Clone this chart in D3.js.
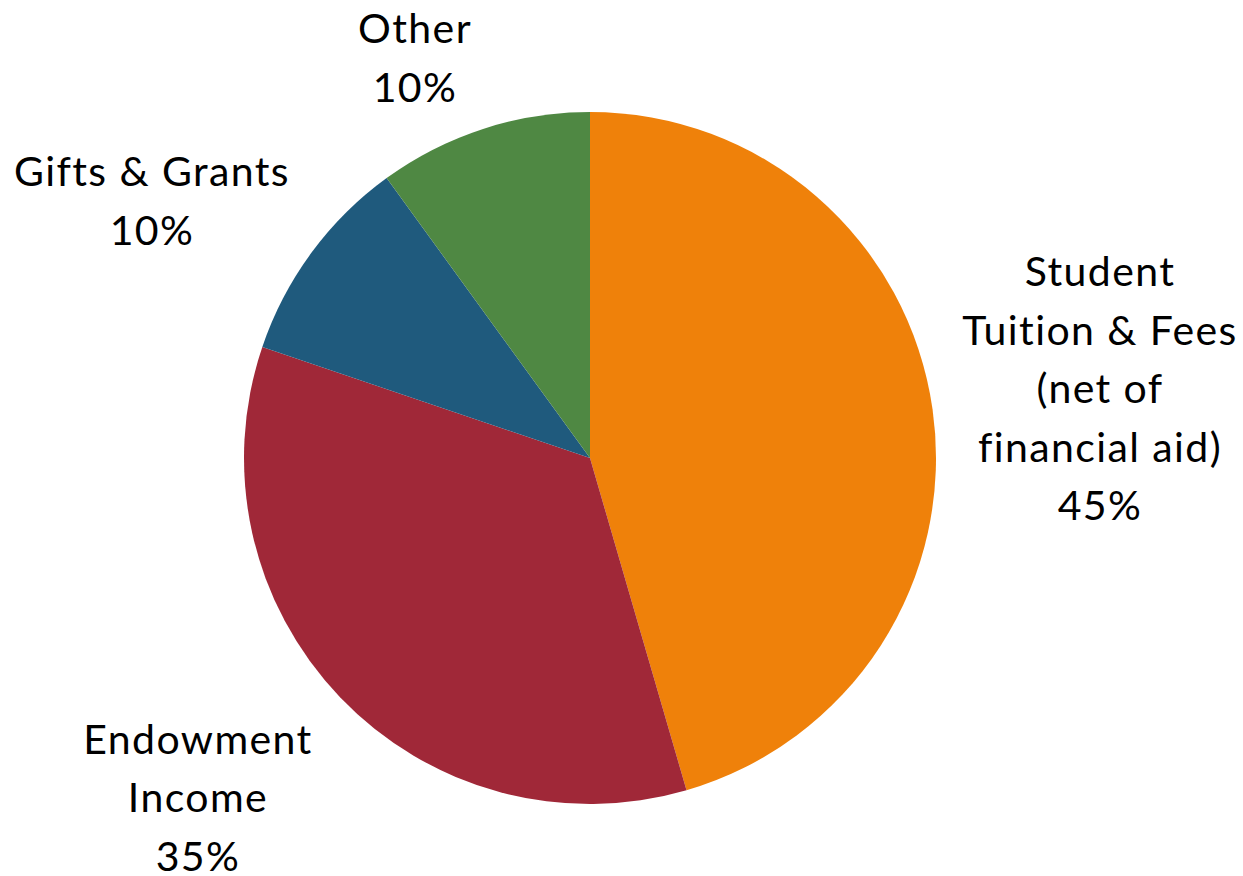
<!DOCTYPE html>
<html>
<head>
<meta charset="utf-8">
<script src="https://cdn.jsdelivr.net/npm/d3@7"></script>
<style>
  body { margin: 0; background: #fff; }
  text { font-family: Lato, "Open Sans", sans-serif; fill: #000; }
</style>
</head>
<body>
<div id="chart"></div>
<script>
var categories = ["Student Tuition & Fees (net of financial aid)", "Endowment Income", "Gifts & Grants", "Other"];
// slice sizes as drawn (labels show the rounded shares)
var values = [45.5, 34.7, 9.8, 10];
var labelLines = [
  ["Student", "Tuition & Fees", "(net of", "financial aid)", "45%"],
  ["Endowment", "Income", "35%"],
  ["Gifts & Grants", "10%"],
  ["Other", "10%"]
];
var colors = ["#EF810A", "#A02838", "#1F5A7D", "#4F8843"];

var w = 1243, h = 876,
    cx = 590, cy = 458, r = 346,
    lineH = 58.5;

// label block centres (layout), relative to pie centre
var labelPos = [[510, -69], [-392, 340], [-438, -257], [-175, -400]];

var data = categories.map(function(c, i){ return {name: c, value: values[i], lines: labelLines[i]} });

var svg = d3.select("#chart").append("svg")
  .attr("width", w)
  .attr("height", h)

var g = svg.append("g")
  .attr("transform", "translate(" + cx + "," + cy + ")")

var pie = d3.pie().sort(null).value(function(d){ return d.value });
var arc = d3.arc().innerRadius(0).outerRadius(r);

g.selectAll(".slice")
  .data(pie(data))
  .enter()
    .append("path")
      .attr("class", "slice")
      .attr("d", arc)
      .style("fill", function(d, i){ return colors[i] })

var labels = g.selectAll(".label")
  .data(data)
  .enter()
    .append("text")
      .attr("class", "label")
      .style("text-anchor", "middle")
      .style("font-size", "41px")
      .style("letter-spacing", "1.4px")
      .attr("transform", function(d, i){
        return "translate(" + labelPos[i][0] + "," + labelPos[i][1] + ")"
      })

labels.each(function(d){
  var n = d.lines.length;
  d3.select(this).selectAll("tspan")
    .data(d.lines)
    .enter()
      .append("tspan")
        .attr("x", 0)
        .attr("y", function(l, j){ return (j - (n - 1) / 2) * lineH })
        .attr("dy", "0.35em")
        .text(function(l){ return l })
})
</script>
</body>
</html>
